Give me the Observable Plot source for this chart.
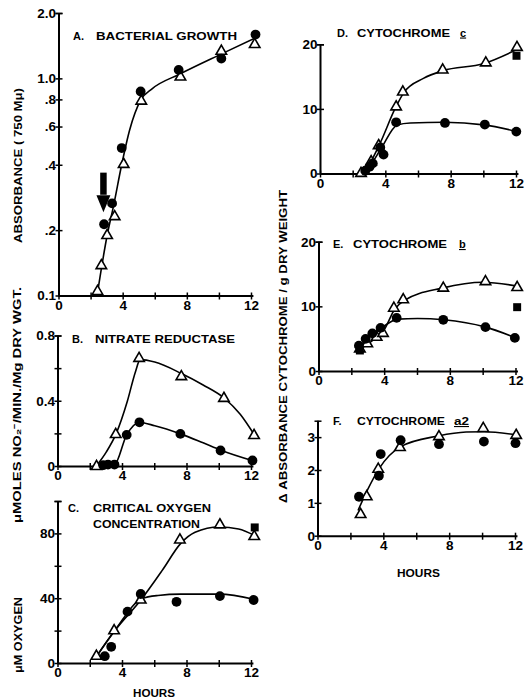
<!DOCTYPE html>
<html><head><meta charset="utf-8">
<script src="https://cdn.jsdelivr.net/npm/d3@7"></script>
<script src="https://cdn.jsdelivr.net/npm/@observablehq/plot@0.6"></script>
<style>
html,body{margin:0;padding:0;background:#fff;}
#wrap{position:relative;width:530px;height:698px;overflow:hidden;background:#fff;}
#wrap svg{position:absolute;left:0;top:0;}
</style></head><body><div id="wrap"></div>
<script>
// ---------- data ----------
const hourTicks = [0, 2, 4, 6, 8, 10, 12];
const hourLabels = [0, 4, 8, 12];

// A. Bacterial growth (absorbance, log scale)
const aTicks = [0.1, 0.2, 0.4, 0.6, 0.8, 1.0, 2.0];
const aTickLabels = ["0.1", ".2", ".4", ".6", ".8", "1.0", "2.0"];
const aTri = [[2.4,0.105],[2.64,0.138],[3.0,0.19],[3.47,0.232],[4.03,0.404],[5.13,0.79],[7.57,1.02],[10.12,1.34],[12.2,1.44]];
const aDot = [[2.81,0.214],[3.31,0.267],[3.91,0.48],[5.09,0.875],[7.46,1.1],[10.12,1.24],[12.25,1.6]];
const aCurve = [[2.37,0.1],[3.0,0.19],[3.4,0.26],[3.9,0.4],[4.4,0.58],[5.1,0.8],[5.8,0.9],[7.5,1.05],[10.1,1.3],[12.3,1.55]];
const aArrow = [{hour: 2.77, top: 0.368, base: 0.291}];

// B. Nitrate reductase
const bTicks = [0, 0.4, 0.8];
const bMinor = [0.2, 0.6];
const bTri = [[2.39,0],[3.58,0.196],[5.03,0.663],[7.65,0.551],[10.29,0.418],[12.16,0.19]];
const bDot = [[2.8,0.008],[3.1,0.012],[3.5,0.012],[4.26,0.194],[5.05,0.271],[7.59,0.2],[10.08,0.098],[12.06,0.037]];
const bTriCurve = [[2.35,0],[3.0,0.09],[3.6,0.2],[4.3,0.4],[4.8,0.58],[5.1,0.655],[6,0.64],[7.65,0.57],[9,0.5],[10.3,0.42],[11.3,0.32],[12.2,0.19]];
const bDotCurve = [[2.8,0],[3.5,0.01],[4.26,0.194],[5.05,0.27],[6,0.25],[7.6,0.2],[9,0.145],[10.1,0.1],[12.1,0.035]];

// C. Critical oxygen concentration
const cTicks = [0, 40, 80];
const cMinor = [20, 60, 100];
const cTri = [[2.38,4.5],[3.48,20.2],[5.13,39.2],[7.56,76.3],[10.04,85.6],[12.17,78.4]];
const cDot = [[2.9,4.5],[3.3,10.3],[4.31,32],[5.13,42.9],[7.35,38.1],[10.04,41.6],[12.13,39.2]];
const cSq = [[12.2,84]];
const cTriCurve = [[2.3,3],[3.5,20],[5.2,40],[6.5,58],[7.6,74],[8.5,81],[10,84.3],[11.2,83],[12.2,79]];
const cDotCurve = [[2.3,3],[3.5,20],[5.2,40],[6.2,42],[7.6,42.8],[10,42.8],[12.2,39.5]];

// D. Cytochrome c
const dTicks = [0, 10, 20];
const dTri = [[2.48,0.1],[3.1,1.9],[3.56,4.4],[4.63,10.4],[5.04,12.7],[7.48,16.1],[10.12,17.2],[12.03,19.6]];
const dDot = [[2.74,0.5],[3.0,1.1],[3.2,1.65],[3.66,4.1],[3.86,3.0],[4.63,8.0],[7.62,7.9],[10.06,7.65],[11.99,6.56]];
const dSq = [[12.0,18.3]];
const dTriCurve = [[2.4,0],[3.0,1.6],[3.6,4.5],[4.6,10.3],[5.1,12.6],[6.3,14.8],[7.5,16],[10,17.1],[12.05,19.3]];
const dDotCurve = [[2.4,0],[3.0,1.2],[3.7,3.9],[4.7,7.6],[5.5,7.9],[7.6,8.0],[10,7.6],[12,6.6]];

// E. Cytochrome b
const eTicks = [0, 10, 20];
const eTri = [[2.49,3.5],[2.94,4.3],[3.51,5.3],[3.9,5.9],[4.56,9.8],[5.13,11.1],[7.57,12.9],[10.14,13.9],[12.07,13.0]];
const eDot = [[2.43,4.0],[2.84,5.05],[3.25,5.9],[3.75,6.75],[4.73,8.3],[7.57,8.0],[10.14,6.86],[11.93,5.2]];
const eSq = [[2.49,3.25],[12.07,9.95]];
const eTriCurve = [[2.4,3.3],[3.5,5.3],[4.0,6.6],[4.6,9.6],[5.2,11.0],[7.5,12.9],[10,13.8],[12.1,13.2]];
const eDotCurve = [[2.4,3.7],[3.3,5.8],[4.0,7.1],[4.8,8.1],[6,8.2],[7.6,8.0],[10.1,6.9],[12,5.2]];

// F. Cytochrome a2
const fTicks = [0, 1, 2, 3];
const fTri = [[2.59,0.66],[2.96,1.2],[3.66,2.04],[4.98,2.7],[7.35,3.03],[10.04,3.28],[12.04,3.07]];
const fDot = [[2.49,1.2],[3.7,1.84],[3.81,2.5],[5.02,2.92],[7.35,2.8],[10.08,2.88],[12.0,2.83]];
const fCurve = [[2.45,0.8],[3.0,1.4],[3.7,2.05],[5.0,2.72],[7.3,3.05],[9,3.17],[10.1,3.18],[12.1,3.08]];

// ---------- drawing ----------
const W = 530, H = 698;
const FONT = "'Liberation Sans', Arial, sans-serif";
const vTick = {draw(c){ c.moveTo(0,-3.5); c.lineTo(0,3.5); }};
const hTick = {draw(c){ c.moveTo(-3.5,0); c.lineTo(3.5,0); }};
const arrowHead = {draw(c){ c.moveTo(-7,0); c.lineTo(7,0); c.lineTo(0,17); c.closePath(); }};
const X = d => d[0], Y = d => d[1];

function panel({px, py, yType = "linear", yDomain, yTicks, yLabels, yMinor = [], curves, tri = [], dot = [], sq = [], extra = []}) {
  const lab = new Map(yTicks.map((t, i) => [t, yLabels ? yLabels[i] : String(t)]));
  const yAll = [...yTicks, ...yMinor, yDomain[1]];
  return Plot.plot({
    width: W, height: H,
    marginLeft: px[0], marginRight: W - px[1],
    marginTop: py[1], marginBottom: H - py[0],
    x: {domain: [0, 12]},
    y: {type: yType, domain: yDomain},
    style: {background: "transparent", overflow: "visible", fontFamily: FONT, fontWeight: "bold", fontSize: "13px", color: "black"},
    marks: [
      Plot.ruleY([yDomain[0]], {x1: 0, x2: 12.15, stroke: "black", strokeWidth: 2}),
      Plot.ruleX([0], {y1: yDomain[0], y2: yDomain[1], stroke: "black", strokeWidth: 2}),
      Plot.dot(hourTicks, {x: d => d, y: yDomain[0], symbol: vTick, fill: "none", stroke: "black", strokeWidth: 1.5}),
      Plot.dot(yAll, {x: 0, y: d => d, symbol: hTick, fill: "none", stroke: "black", strokeWidth: 1.5}),
      Plot.axisX({ticks: hourLabels, tickSize: 0, tickPadding: 4, label: null, fontSize: 13.5, fontWeight: "bold"}),
      Plot.axisY({ticks: yTicks, tickSize: 0, tickPadding: 3, tickFormat: d => lab.get(d), label: null, fontSize: 13.5, fontWeight: "bold"}),
      ...curves.map(c => Plot.line(c, {x: X, y: Y, curve: "monotone-x", stroke: "black", strokeWidth: 1.6})),
      ...extra,
      Plot.dot(tri, {x: X, y: Y, symbol: "triangle", r: 3.9, fill: "white", stroke: "black", strokeWidth: 1.6}),
      Plot.dot(dot, {x: X, y: Y, r: 4.9, fill: "black", stroke: "none"}),
      Plot.dot(sq, {x: X, y: Y, symbol: "square", r: 4.5, fill: "black", stroke: "none"})
    ]
  });
}

const wrap = document.getElementById("wrap");

wrap.append(panel({
  px: [58.5, 251], py: [295.5, 13], yType: "log", yDomain: [0.1, 2.0],
  yTicks: aTicks, yLabels: aTickLabels, curves: [aCurve], tri: aTri, dot: aDot,
  extra: [
    Plot.ruleX(aArrow, {x: "hour", y1: "top", y2: "base", stroke: "black", strokeWidth: 6.5}),
    Plot.dot(aArrow, {x: "hour", y: "base", symbol: arrowHead, fill: "black", stroke: "none"})
  ]
}));
wrap.append(panel({
  px: [57.5, 251], py: [466, 335.5], yDomain: [0, 0.8], yTicks: bTicks, yMinor: bMinor,
  curves: [bTriCurve, bDotCurve], tri: bTri, dot: bDot
}));
wrap.append(panel({
  px: [57.5, 251], py: [663, 501], yDomain: [0, 100], yTicks: cTicks, yMinor: cMinor,
  curves: [cTriCurve, cDotCurve], tri: cTri, dot: cDot, sq: cSq
}));
wrap.append(panel({
  px: [320, 516], py: [173.5, 44.3], yDomain: [0, 20], yTicks: dTicks,
  curves: [dTriCurve, dDotCurve], tri: dTri, dot: dDot, sq: dSq
}));
wrap.append(panel({
  px: [318.5, 515.5], py: [371, 241.7], yDomain: [0, 20], yTicks: eTicks,
  curves: [eTriCurve, eDotCurve], tri: eTri, dot: eDot, sq: eSq
}));
wrap.append(panel({
  px: [317.5, 515], py: [535.7, 420.7], yDomain: [0, 3.5], yTicks: fTicks,
  curves: [fCurve], tri: fTri, dot: fDot
}));

// ---------- titles & axis labels ----------
const svg = d3.create("svg").attr("width", W).attr("height", H)
  .style("font-family", FONT).style("font-weight", "bold").style("font-size", "11px");
function txt(s, x, y, o = {}) {
  const t = svg.append("text").text(s).attr("fill", "black");
  if (o.rot) {
    t.attr("transform", `translate(${x},${y}) rotate(-90)`).attr("text-anchor", "middle");
  } else {
    t.attr("x", x).attr("y", y).attr("text-anchor", o.anchor || "start");
  }
  if (o.w) t.attr("textLength", o.w).attr("lengthAdjust", "spacingAndGlyphs");
  if (o.size) t.style("font-size", o.size + "px");
  if (o.u) t.style("text-decoration", "underline");
  return t;
}
txt("A.", 73, 39.5); txt("BACTERIAL GROWTH", 96, 39.5, {w: 141});
txt("B.", 72, 343); txt("NITRATE REDUCTASE", 95, 343, {w: 140});
txt("C.", 68, 512); txt("CRITICAL OXYGEN", 93, 512, {w: 118});
txt("CONCENTRATION", 93, 528, {w: 107});
txt("D.", 337, 36.5); txt("CYTOCHROME", 357, 36.5, {w: 93}); txt("c", 460, 36.5, {u: true});
txt("E.", 333, 248); txt("CYTOCHROME", 353, 248, {w: 94}); txt("b", 459, 248, {u: true});
txt("F.", 333, 425); txt("CYTOCHROME", 357, 425, {w: 88}); txt("a2", 454, 425, {u: true, w: 15});
txt("HOURS", 154, 697, {anchor: "middle", w: 42});
txt("HOURS", 418.5, 577, {anchor: "middle", w: 43});
txt("ABSORBANCE ( 750 Mμ)", 22, 165.5, {rot: true, w: 155});
txt("μMOLES NO₂⁻/MIN./Mg DRY WGT.", 21, 405, {rot: true, w: 236});
txt("μM OXYGEN", 22, 635, {rot: true, w: 76});
txt("Δ ABSORBANCE CYTOCHROME / g DRY WEIGHT", 287, 346.5, {rot: true, w: 313});
wrap.append(svg.node());
</script>
</body></html>
